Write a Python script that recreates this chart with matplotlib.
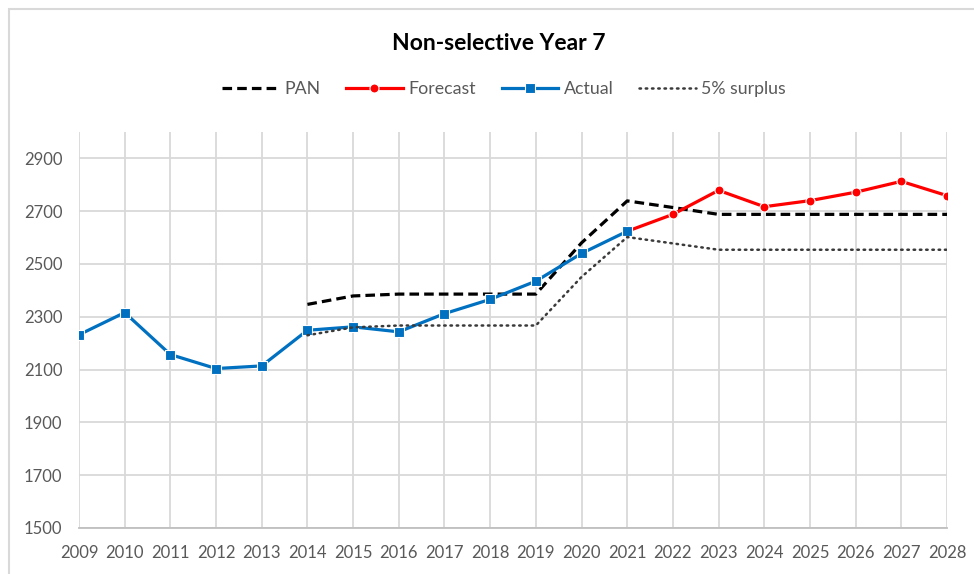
import matplotlib
matplotlib.use("Agg")
import matplotlib.pyplot as plt
from matplotlib.patches import Rectangle

plt.rcParams["font.family"] = ["Lato", "DejaVu Sans"]

TEXT_GREY = "#595959"
GRID_GREY = "#d9d9d9"

years = list(range(2009, 2029))

actual_years = list(range(2009, 2022))
actual = [2232, 2316, 2157, 2104, 2114, 2249, 2262, 2243, 2312, 2366,
          2435, 2540, 2624]

forecast_years = list(range(2021, 2029))
forecast = [2624, 2688, 2779, 2717, 2740, 2772, 2813, 2759]

pan_years = list(range(2014, 2029))
pan = [2347, 2379, 2386, 2386, 2386, 2386, 2580, 2739, 2714, 2688,
       2688, 2688, 2688, 2688, 2688]

surplus_years = list(range(2014, 2029))
surplus = [2230, 2260, 2267, 2267, 2267, 2267, 2451, 2602, 2578, 2554,
           2554, 2554, 2554, 2554, 2554]

y_ticks = list(range(1500, 3000, 200))


def main():
    fig = plt.figure(figsize=(9.74, 5.74), dpi=100)
    ax = fig.add_axes([79 / 974, 1 - 528 / 574, 868 / 974, 396 / 574])

    # light frame round the whole chart
    fig.patches.append(Rectangle((9 / 974, -0.05), 1.2, 1.05 - 9 / 574,
                                 transform=fig.transFigure, fill=False,
                                 edgecolor=GRID_GREY, linewidth=1.5))

    ax.plot(pan_years, pan, color="black", linewidth=2.3,
            linestyle=(0, (3, 1.6)), label="PAN", zorder=3)
    ax.plot(forecast_years, forecast, color="#ff0000", linewidth=2.3,
            marker="o", markersize=6.5, markeredgecolor="white",
            markeredgewidth=0.8, label="Forecast", zorder=4)
    ax.plot(actual_years, actual, color="#0070c0", linewidth=2.3,
            marker="s", markersize=7.5, markeredgecolor="white",
            markeredgewidth=0.8, label="Actual", zorder=5)
    ax.plot(surplus_years, surplus, color="#3a3a3a", linewidth=1.8,
            linestyle=(0, (0.6, 1.9)), dash_capstyle="round",
            label="5% surplus", zorder=6)

    ax.set_xlim(2009, 2028)
    ax.set_ylim(1500, 3000)
    ax.set_xticks(years)
    ax.set_yticks(y_ticks)
    ax.grid(True, color=GRID_GREY, linewidth=1.3, zorder=0)
    ax.set_axisbelow(True)
    for side in ["top", "right", "left"]:
        ax.spines[side].set_visible(False)
    ax.spines["bottom"].set_color("#bfbfbf")
    ax.spines["bottom"].set_linewidth(1.3)
    ax.tick_params(length=0, labelsize=12, labelcolor=TEXT_GREY)
    ax.tick_params(axis="x", pad=12)
    ax.tick_params(axis="y", pad=12)

    fig.text(0.512, 1 - 43 / 574, "Non-selective Year 7", ha="center",
             va="center", fontsize=16.5, fontweight="bold", color="black")

    handles, labels = ax.get_legend_handles_labels()
    fig.legend(handles, labels, loc="center", ncol=4,
               bbox_to_anchor=(504 / 974, 1 - 89 / 574), frameon=False,
               fontsize=12.8, labelcolor=TEXT_GREY, handlelength=3.2,
               handletextpad=0.3, columnspacing=1.45, numpoints=1)

    fig.savefig("out.png", dpi=100)


if __name__ == "__main__":
    main()
